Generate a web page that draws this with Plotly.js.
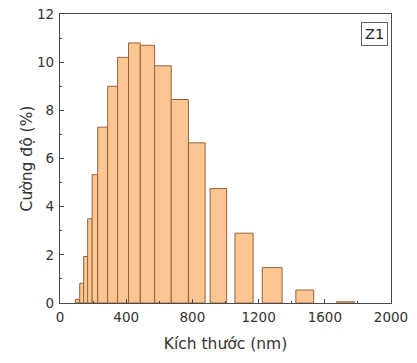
<!DOCTYPE html>
<html>
<head>
<meta charset="utf-8">
<script src="https://cdn.plot.ly/plotly-3.0.1.min.js"></script>
<style>
  html, body { margin: 0; padding: 0; background: #fff; }
  #chart { width: 417px; height: 363px; }
</style>
</head>
<body>
<div id="chart"></div>
<script>
// Size classes (nm): lower and upper bound of each bin, and intensity (%)
const binLow  = [93, 119, 143, 167, 194, 228, 288, 348, 414, 485, 572, 672, 776, 907, 1057, 1222, 1425, 1670];
const binHigh = [119, 143, 167, 194, 228, 288, 348, 414, 485, 572, 672, 776, 877, 1007, 1167, 1342, 1533, 1780];
const intensity = [0.15, 0.82, 1.93, 3.5, 5.33, 7.3, 9.0, 10.2, 10.8, 10.7, 9.85, 8.45, 6.65, 4.75, 2.9, 1.47, 0.54, 0.05];

const xTicks = [0, 400, 800, 1200, 1600, 2000];
const yTicks = [0, 2, 4, 6, 8, 10, 12];
const sampleLabel = 'Z1';

const centers = binLow.map((lo, i) => (lo + binHigh[i]) / 2);
const widths = binLow.map((lo, i) => binHigh[i] - lo);

const family = 'DejaVu Sans, Liberation Sans, Arial, sans-serif';
const tickFont = { family: family, size: 13.5, color: '#333' };
const titleFont = { family: family, size: 15.5, color: '#333' };
const axisLine = '#4a4a4a';

const trace = {
  type: 'bar',
  x: centers,
  y: intensity,
  width: widths,
  marker: {
    color: 'rgb(251,198,146)',
    line: { color: 'rgb(150,100,60)', width: 1 }
  },
  hoverinfo: 'x+y'
};

const layout = {
  width: 417,
  height: 363,
  margin: { l: 59.5, r: 25.5, t: 14, b: 60 },
  paper_bgcolor: '#fff',
  plot_bgcolor: '#fff',
  font: tickFont,
  showlegend: false,
  bargap: 0,
  xaxis: {
    range: [0, 2000],
    tickvals: xTicks,
    ticktext: xTicks.map(String),
    ticks: 'inside',
    ticklen: 4,
    tickcolor: axisLine,
    ticklabelstandoff: 2,
    minor: { ticks: 'inside', ticklen: 2, dtick: 200, tickcolor: axisLine },
    showline: true,
    linecolor: axisLine,
    linewidth: 1.2,
    mirror: true,
    showgrid: false,
    zeroline: false,
    tickfont: tickFont,
    automargin: 'bottom',
    title: { text: 'Kích thước (nm)', font: titleFont, standoff: 13 }
  },
  yaxis: {
    range: [0, 12],
    tickvals: yTicks,
    ticktext: yTicks.map(String),
    ticks: 'inside',
    ticklen: 4,
    tickcolor: axisLine,
    ticklabelstandoff: 2,
    minor: { ticks: 'inside', ticklen: 2, dtick: 1, tickcolor: axisLine },
    showline: true,
    linecolor: axisLine,
    linewidth: 1.2,
    mirror: true,
    showgrid: false,
    zeroline: false,
    tickfont: tickFont,
    automargin: 'left',
    title: { text: 'Cường độ (%)', font: titleFont, standoff: 0 }
  },
  annotations: [{
    text: sampleLabel,
    xref: 'paper', yref: 'paper',
    x: 0.992, y: 0.972,
    xanchor: 'right', yanchor: 'top',
    showarrow: false,
    font: { family: family, size: 14.5, color: '#222' },
    bordercolor: '#666',
    borderwidth: 1,
    borderpad: 3,
    bgcolor: '#fff'
  }]
};

Plotly.newPlot('chart', [trace], layout, { displayModeBar: false, staticPlot: true });
</script>
</body>
</html>
